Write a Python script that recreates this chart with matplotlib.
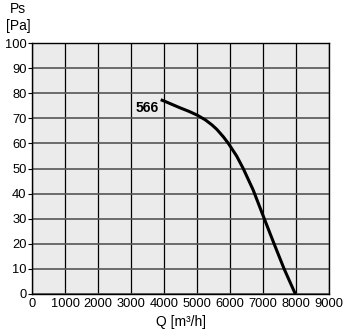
import matplotlib.pyplot as plt

plt.rcParams['font.family'] = ['Liberation Sans', 'DejaVu Sans']

# fan curve 566: static pressure vs. air flow
flow = [3900, 4000, 4250, 4500, 4750, 5000, 5250, 5450, 5600, 5800, 5950, 6200, 6400, 6700, 7030, 7330, 7640, 7980]
pressure = [77.4, 76.9, 75.5, 74.1, 72.8, 71.3, 69.4, 67.4, 65.6, 62.6, 60, 55, 50, 41.5, 30.3, 20.2, 10, 0]
curve_name = "566"

x_ticks = list(range(0, 9001, 1000))
y_ticks = list(range(0, 101, 10))

fig = plt.figure(figsize=(3.47, 3.30), dpi=100)
ax = fig.add_axes([32 / 347, 36 / 330, 297 / 347, 251 / 330])
ax.set_facecolor('#ebebeb')

ax.set_xlim(0, 9000)
ax.set_ylim(0, 100)
ax.set_xticks(x_ticks)
ax.set_yticks(y_ticks)
ax.tick_params(axis='both', labelsize=9.3, length=3, width=0.8, pad=1)
ax.tick_params(axis='x', length=0, pad=3)

# vertical lines black, horizontal lines grey
ax.grid(axis='x', color='black', linewidth=0.9)
ax.grid(axis='y', color='#555555', linewidth=1.2)
ax.set_axisbelow(True)
for s in ax.spines.values():
    s.set_color('black')
    s.set_linewidth(1.0)

ax.plot(flow, pressure, color='black', linewidth=2.2, solid_capstyle='butt')
ax.text(3850, 74, curve_name, ha='right', va='center', fontsize=10, fontweight='bold')

fig.text(18 / 347, 1 - 9 / 330, "Ps", ha='center', va='center', fontsize=10)
fig.text(18 / 347, 1 - 26 / 330, "[Pa]", ha='center', va='center', fontsize=10)
fig.text(181 / 347, 1 - 322 / 330, "Q [m³/h]", ha='center', va='center', fontsize=10)

fig.savefig('out.png', dpi=100)
